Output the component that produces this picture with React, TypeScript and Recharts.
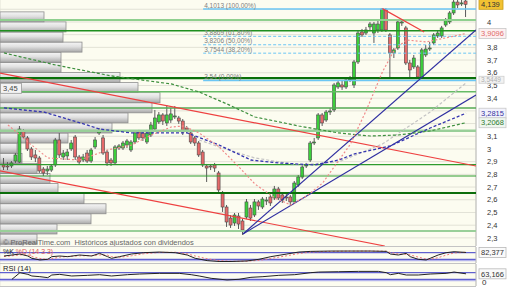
import React from "react";
import {
  ComposedChart,
  BarChart,
  LineChart,
  Bar,
  Line,
  XAxis,
  YAxis,
  CartesianGrid,
  ReferenceLine,
} from "recharts";

const FONT = "'Liberation Sans', Arial, sans-serif";

// daily candles
const opens = [
  2.874, 2.866, 2.866, 2.905, 2.897, 3.142, 3.087, 3.0, 2.953, 2.929,
  2.842, 2.827, 2.834, 2.874, 3.071, 2.937, 2.945, 3.0, 3.094, 2.937,
  2.913, 2.968, 2.905, 3.016, 3.126, 3.087, 2.976, 2.913, 2.89, 3.008,
  3.008, 3.031, 2.992, 3.055, 3.134, 3.126, 3.055, 3.11, 3.157, 3.213,
  3.268, 3.205, 3.228, 3.252, 3.244, 3.22, 3.165, 3.126, 3.087, 3.047,
  2.976, 2.866, 2.866, 2.874, 2.811, 2.653, 2.543, 2.456, 2.417, 2.472,
  2.433, 2.464, 2.535, 2.48, 2.583, 2.543, 2.59, 2.622, 2.614, 2.685,
  2.638, 2.622, 2.622, 2.583, 2.716, 2.779, 2.866, 2.913, 3.047, 3.087,
  3.268, 3.228, 3.291, 3.307, 3.488, 3.504, 3.488, 3.543, 3.504, 3.685,
  3.921, 3.913, 3.961, 3.913, 3.937, 3.937, 4.094, 3.898, 3.756, 3.795,
  3.992, 3.953, 3.677, 3.646, 3.646, 3.567, 3.74, 3.787, 3.835, 3.89,
  3.89, 3.976, 4.0, 4.071, 4.157, 4.142, 4.165,
];
const closes = [
  2.858, 2.862, 2.89, 2.953, 3.157, 3.094, 3.0, 2.937, 2.929, 2.827,
  2.811, 2.842, 2.866, 3.071, 2.953, 2.968, 2.976, 3.047, 2.937, 2.897,
  2.937, 2.905, 2.992, 3.071, 3.142, 2.968, 2.89, 2.89, 3.016, 3.024,
  3.047, 3.063, 3.055, 3.126, 3.087, 3.087, 3.126, 3.189, 3.244, 3.268,
  3.22, 3.268, 3.276, 3.26, 3.22, 3.134, 3.15, 3.055, 3.047, 2.953,
  2.874, 2.85, 2.858, 2.85, 2.677, 2.543, 2.425, 2.401, 2.48, 2.409,
  2.362, 2.583, 2.456, 2.583, 2.551, 2.606, 2.598, 2.575, 2.685, 2.614,
  2.598, 2.614, 2.583, 2.732, 2.779, 2.858, 2.874, 3.047, 3.055, 3.268,
  3.205, 3.291, 3.299, 3.504, 3.52, 3.488, 3.543, 3.551, 3.685, 3.913,
  3.898, 3.937, 3.984, 3.984, 3.984, 4.102, 3.937, 3.756, 3.78, 4.0,
  4.0, 3.677, 3.622, 3.716, 3.567, 3.78, 3.787, 3.795, 3.898, 3.913,
  3.953, 4.016, 4.071, 4.157, 4.134, 4.15, 4.139,
];
const highs = [
  2.929, 2.897, 2.905, 2.968, 3.181, 3.157, 3.102, 3.016, 2.992, 2.945,
  2.858, 2.866, 2.882, 3.087, 3.126, 2.992, 3.0, 3.071, 3.11, 2.953,
  2.961, 2.992, 3.008, 3.094, 3.165, 3.11, 2.992, 2.929, 3.031, 3.039,
  3.063, 3.079, 3.071, 3.142, 3.15, 3.142, 3.15, 3.213, 3.307, 3.291,
  3.283, 3.346, 3.323, 3.338, 3.26, 3.236, 3.181, 3.142, 3.102, 3.063,
  2.992, 2.882, 2.882, 2.89, 2.827, 2.669, 2.559, 2.48, 2.496, 2.496,
  2.449, 2.606, 2.559, 2.606, 2.598, 2.622, 2.622, 2.638, 2.709, 2.701,
  2.653, 2.646, 2.638, 2.748, 2.795, 2.874, 2.89, 3.063, 3.087, 3.283,
  3.283, 3.307, 3.323, 3.52, 3.535, 3.543, 3.559, 3.575, 3.701, 3.929,
  3.945, 3.961, 4.0, 4.0, 4.016, 4.11, 4.11, 3.913, 3.795, 4.016,
  4.016, 3.969, 3.701, 3.74, 3.661, 3.795, 3.819, 3.843, 3.913, 3.929,
  3.969, 4.031, 4.086, 4.173, 4.173, 4.173, 4.18,
];
const lows = [
  2.834, 2.834, 2.85, 2.89, 2.89, 3.079, 2.984, 2.913, 2.897, 2.811,
  2.787, 2.795, 2.819, 2.858, 2.929, 2.913, 2.913, 2.984, 2.913, 2.882,
  2.897, 2.89, 2.89, 3.0, 3.11, 2.953, 2.866, 2.866, 2.874, 2.992,
  2.992, 3.008, 2.976, 3.039, 3.071, 3.063, 3.039, 3.094, 3.142, 3.197,
  3.189, 3.181, 3.205, 3.236, 3.197, 3.11, 3.126, 3.039, 3.024, 2.937,
  2.858, 2.74, 2.834, 2.819, 2.661, 2.504, 2.386, 2.378, 2.394, 2.37,
  2.323, 2.449, 2.433, 2.464, 2.52, 2.527, 2.559, 2.551, 2.598, 2.598,
  2.575, 2.59, 2.559, 2.567, 2.701, 2.764, 2.85, 2.897, 3.031, 3.071,
  3.181, 3.213, 3.268, 3.291, 3.472, 3.465, 3.472, 3.527, 3.48, 3.669,
  3.882, 3.898, 3.937, 3.835, 3.913, 3.921, 3.921, 3.559, 3.716, 3.78,
  3.969, 3.661, 3.559, 3.63, 3.551, 3.559, 3.724, 3.772, 3.819, 3.874,
  3.874, 3.961, 3.984, 4.055, 4.11, 4.126, 4.039,
];

// moving averages, [candle index, value]
const maFast: [number, number][] = [
  [1, 3.189], [6, 3.055], [11, 2.929], [19, 2.913], [26, 2.992], [32, 3.031],
  [37, 3.11], [42, 3.173], [45, 3.181], [49, 3.126], [54, 3.016], [59, 2.858],
  [63, 2.724], [68, 2.614], [72, 2.559], [76, 2.63], [80, 2.732], [87, 3.039],
  [91, 3.307], [95, 3.606], [98, 3.78], [101, 3.858], [106, 3.843], [112, 3.882],
  [116, 3.9096],
];
const maMid: [number, number][] = [
  [0, 3.323], [10, 3.291], [20, 3.197], [24, 3.157], [32, 3.126], [46, 3.126],
  [54, 3.031], [62, 2.913], [69, 2.89], [78, 2.874], [84, 2.913], [88, 2.961],
  [97, 3.024], [107, 3.165], [116, 3.2815],
];
const maSlow: [number, number][] = [
  [0, 3.756], [13, 3.661], [27, 3.575], [42, 3.512], [49, 3.449], [56, 3.354],
  [63, 3.252], [74, 3.181], [84, 3.126], [92, 3.102], [99, 3.11], [107, 3.142],
  [116, 3.2068],
];
const maGray: [number, number][] = [
  [49, 3.071], [54, 3.016], [63, 2.929], [74, 2.874], [84, 2.898], [95, 3.039],
  [107, 3.291], [116, 3.52],
];

// stochastic and RSI, [candle index, value]
const stochK: [number, number][] = [
  [0, 50], [2, 59], [4, 68], [6, 50], [7, 29], [9, 14], [11, 20], [12, 44], [14, 50],
  [16, 44], [19, 59], [22, 50], [24, 74], [26, 44], [27, 29], [29, 44], [32, 68],
  [35, 80], [39, 86], [43, 80], [46, 59], [48, 29], [51, 8], [54, 0], [57, 0], [61, 5],
  [64, 20], [67, 44], [71, 68], [74, 86], [77, 92], [82, 95], [87, 95], [92, 95],
  [96, 92], [97, 68], [99, 59], [101, 74], [102, 44], [104, 20], [106, 14], [107, 29],
  [109, 59], [111, 80], [113, 89], [116, 82.377],
];
const stochD: [number, number][] = [
  [0, 45], [2, 52], [4, 60], [6, 60], [7, 45], [9, 28], [11, 18], [12, 25], [14, 40],
  [16, 46], [19, 52], [22, 54], [24, 60], [26, 58], [27, 45], [29, 38], [32, 52],
  [35, 70], [39, 82], [43, 84], [46, 70], [48, 50], [51, 25], [54, 8], [57, 2], [61, 3],
  [64, 10], [67, 28], [71, 52], [74, 72], [77, 86], [82, 92], [87, 95], [92, 95],
  [96, 94], [97, 82], [99, 68], [101, 66], [102, 60], [104, 40], [106, 22], [107, 20],
  [109, 35], [111, 58], [113, 78], [116, 84],
];
const rsi: [number, number][] = [
  [2, 30], [4, 70], [6, 60], [7, 50], [9, 46], [11, 40], [12, 56], [14, 60], [17, 50],
  [21, 54], [24, 58], [27, 50], [31, 58], [34, 62], [39, 66], [44, 66], [47, 58],
  [49, 50], [52, 36], [56, 26], [59, 30], [62, 42], [65, 46], [69, 54], [73, 58],
  [77, 70], [79, 74], [84, 76], [89, 78], [94, 78], [96, 70], [97, 58], [99, 66],
  [101, 56], [104, 56], [107, 62], [111, 66], [113, 74], [116, 63.166],
];

// volume by price
const vpPrice = [
  4.198, 4.118, 4.039, 3.959, 3.88, 3.8, 3.721, 3.641, 3.562, 3.483, 3.403, 3.323,
  3.244, 3.164, 3.085, 3.005, 2.926, 2.846, 2.767, 2.687, 2.607, 2.528, 2.448, 2.369,
];
const vpVol = [23, 37, 57, 91, 106, 84, 58, 50, 37, 22, 17, 68, 112, 128, 152, 160, 138, 120, 61, 61, 82, 63, 66, 44];

// horizontal support / resistance levels
const levels = [4.016, 3.931, 3.558, 3.45, 3.323, 3.144, 2.876, 2.787, 2.654, 2.354];
const levelStyle = [
  { c: "#8fd08f", w: 2 },
  { c: "#1f8f1f", w: 1.5 },
  { c: "#0a700a", w: 2.2 },
  { c: "#66bb66", w: 1.5 },
  { c: "#55aa55", w: 1.5 },
  { c: "#99cf99", w: 2.5 },
  { c: "#2e9b2e", w: 1.2 },
  { c: "#2e9b2e", w: 1.2 },
  { c: "#0c6e0c", w: 2 },
  { c: "#99cf99", w: 2.2 },
];

// fibonacci retracement
const fibValues = [4.1013, 3.8869, 3.8206, 3.7544, 3.54];
const fibPct = ["100,00%", "61,80%", "50,00%", "38,20%", "0,00%"];
const fibFrom = 50;

// trend lines [x1, y1, x2, y2]
const redLines = [
  [-1, 3.598, 118.5, 2.866],
  [-1, 2.827, 95.6, 2.236],
  [95, 4.105, 105.5, 3.921],
];
const blueLines = [
  [60, 2.331, 118.5, 3.937],
  [60, 2.331, 118.5, 3.425],
];

// 3,9 / 3,3 / 3,2 / 4,1 sit under the value tags
const priceTicks = [2.3, 2.4, 2.5, 2.6, 2.7, 2.8, 2.9, 3, 3.1, 3.4, 3.5, 3.6, 3.7, 3.8, 4];
const gridTicks = [2.3, 2.4, 2.5, 2.6, 2.7, 2.8, 2.9, 3, 3.1, 3.2, 3.3, 3.4, 3.5, 3.6, 3.7, 3.8, 3.9, 4, 4.1];
const gridIdx = [3, 8, 14, 19, 24, 29, 33, 38, 41, 47, 54, 58, 63, 67, 72, 77, 83, 87, 92, 97, 102, 105, 110, 114];

const candles = opens.map((o, i) => ({ i, o, c: closes[i], h: highs[i], l: lows[i] }));
const pts = (a: [number, number][]) => a.map(([i, v]) => ({ i, v }));
const profile = vpPrice.map((p, k) => ({ p, v: vpVol[k] }));

const X_DOMAIN: [number, number] = [-1, 118.5];
const Y_DOMAIN: [number, number] = [2.236, 4.173];
const W = 512;
const AXIS_W = 36;
const CREAM = "#fcfcf0";

const fmt = (v: number) => String(Number(v.toFixed(1))).replace(".", ",");

function Candle(props: any) {
  const { x, y, width, height, payload } = props;
  if (!payload || payload.h == null) return null;
  const top = Math.min(y, y + height);
  const h = Math.abs(height);
  const span = payload.h - payload.l || 1;
  const py = (p: number) => top + ((payload.h - p) / span) * h;
  const up = payload.c >= payload.o;
  const yo = py(payload.o);
  const yc = py(payload.c);
  const cx = x + width / 2;
  return (
    <g>
      <line x1={cx} x2={cx} y1={top} y2={top + h} stroke="#5a5a5a" strokeWidth={1} />
      <rect
        x={x}
        y={Math.min(yo, yc)}
        width={width}
        height={Math.max(1, Math.abs(yc - yo))}
        fill={up ? "#3ccf3c" : "#e66a6a"}
        stroke="#4a4a4a"
        strokeWidth={0.6}
      />
    </g>
  );
}

function ProfileBar(props: any) {
  const { x, y, width, height } = props;
  if (!width || width <= 0) return null;
  return <rect x={x} y={y} width={width} height={height} fill="url(#vpGrad)" stroke="#8e8e8e" strokeWidth={0.8} />;
}

function Tag(props: any) {
  const { viewBox, text, bg, fg, border, w = 27, h = 10, fs = 7.5 } = props;
  if (!viewBox) return null;
  const x = viewBox.x + viewBox.width + 3;
  const y = viewBox.y;
  return (
    <g>
      <rect x={x} y={y - h / 2} width={w} height={h} fill={bg} stroke={border} strokeWidth={0.8} />
      <text x={x + 2} y={y + fs * 0.36} fontSize={fs} fill={fg} fontFamily={FONT}>
        {text}
      </text>
    </g>
  );
}

function FibLabel(props: any) {
  const { viewBox, text } = props;
  if (!viewBox) return null;
  return (
    <text x={viewBox.x + 1} y={viewBox.y - 1.5} fontSize={6.5} fill="#808080" fontFamily={FONT}>
      {text}
    </text>
  );
}

function LeftBox(props: any) {
  const { viewBox, text } = props;
  if (!viewBox) return null;
  return (
    <g>
      <rect x={viewBox.x + 0.5} y={viewBox.y - 8.5} width={21} height={10} fill="#f3f3f3" stroke="#9a9a9a" strokeWidth={0.8} />
      <text x={viewBox.x + 3} y={viewBox.y - 0.5} fontSize={7.5} fill="#444" fontFamily={FONT}>
        {text}
      </text>
    </g>
  );
}

function BackLayer() {
  return (
    <ComposedChart width={W} height={246} data={candles} margin={{ top: 0, right: 0, bottom: 0, left: 0 }}>
      <CartesianGrid stroke="#e2e2d6" fill={CREAM} horizontalValues={gridTicks} />
      <XAxis dataKey="i" type="number" domain={X_DOMAIN} ticks={gridIdx} tick={false} axisLine={false} tickLine={false} height={0} allowDataOverflow />
      <YAxis
        orientation="right"
        width={AXIS_W}
        domain={Y_DOMAIN}
        ticks={priceTicks}
        interval={0}
        allowDataOverflow
        tickFormatter={fmt}
        tick={{ fontSize: 7.5, fill: "#333", fontFamily: FONT }}
        tickLine={false}
        tickMargin={5}
        axisLine={{ stroke: "#bdbdbd" }}
      />
      <Line dataKey="c" stroke="none" dot={false} isAnimationActive={false} />
    </ComposedChart>
  );
}

function ProfileLayer() {
  return (
    <BarChart width={W} height={246} data={profile} layout="vertical" margin={{ top: 0, right: AXIS_W, bottom: 0, left: 0 }}>
      <defs>
        <linearGradient id="vpGrad" x1="0" y1="0" x2="0" y2="1">
          <stop offset="0%" stopColor="#f6f6f6" />
          <stop offset="45%" stopColor="#e0e0e0" />
          <stop offset="100%" stopColor="#a8a8a8" />
        </linearGradient>
      </defs>
      <XAxis type="number" domain={[0, 476]} hide />
      <YAxis type="number" dataKey="p" domain={Y_DOMAIN} allowDataOverflow hide />
      <Bar dataKey="v" barSize={10} shape={<ProfileBar />} isAnimationActive={false} />
    </BarChart>
  );
}

function PriceLayer() {
  return (
    <ComposedChart width={W} height={246} data={candles} margin={{ top: 0, right: 0, bottom: 0, left: 0 }}>
      <XAxis dataKey="i" type="number" domain={X_DOMAIN} hide allowDataOverflow />
      <YAxis orientation="right" width={AXIS_W} domain={Y_DOMAIN} allowDataOverflow tick={false} axisLine={false} tickLine={false} />
      {levels.map((v, k) => (
        <ReferenceLine key={"lv" + k} y={v} stroke={levelStyle[k].c} strokeWidth={levelStyle[k].w} />
      ))}
      <ReferenceLine y={3.45} stroke="none" label={<LeftBox text="3,45" />} />
      {fibValues.map((v, k) => (
        <ReferenceLine
          key={"fib" + k}
          segment={[
            { x: fibFrom, y: v },
            { x: X_DOMAIN[1], y: v },
          ]}
          ifOverflow="hidden"
          stroke="#6cc6f4"
          strokeWidth={k === 0 || k === 4 ? 1.5 : 1}
          strokeDasharray={k === 0 || k === 4 ? undefined : "3 2"}
          label={<FibLabel text={`${String(v).replace(".", ",")} (${fibPct[k]})`} />}
        />
      ))}
      {redLines.map(([x1, y1, x2, y2], k) => (
        <ReferenceLine
          key={"rl" + k}
          segment={[
            { x: x1, y: y1 },
            { x: x2, y: y2 },
          ]}
          ifOverflow="hidden"
          stroke="#ee4040"
          strokeWidth={1.2}
        />
      ))}
      {blueLines.map(([x1, y1, x2, y2], k) => (
        <ReferenceLine
          key={"bl" + k}
          segment={[
            { x: x1, y: y1 },
            { x: x2, y: y2 },
          ]}
          ifOverflow="hidden"
          stroke="#2e2ea0"
          strokeWidth={1.2}
        />
      ))}
      <Line data={pts(maGray)} dataKey="v" stroke="#c4c4c4" strokeWidth={1.2} strokeDasharray="3 2" dot={false} activeDot={false} isAnimationActive={false} />
      <Line data={pts(maSlow)} dataKey="v" stroke="#3d8f3d" strokeWidth={1.2} strokeDasharray="3 2" dot={false} activeDot={false} isAnimationActive={false} />
      <Line data={pts(maMid)} dataKey="v" stroke="#3535b0" strokeWidth={1.3} strokeDasharray="3 2" dot={false} activeDot={false} isAnimationActive={false} />
      <Line data={pts(maFast)} dataKey="v" stroke="#f08a8a" strokeWidth={1.2} strokeDasharray="2 2" dot={false} activeDot={false} isAnimationActive={false} />
      <Bar dataKey={(d: any) => [d.l, d.h]} barSize={3} shape={<Candle />} isAnimationActive={false} />
      <ReferenceLine y={closes[closes.length - 1]} stroke="none" label={<Tag text="4,139" bg="#f2c232" fg="#333" border="#c89c18" w={24} />} />
      <ReferenceLine y={3.9096} stroke="none" label={<Tag text="3,9096" bg="#fdf0f0" fg="#e06a6a" border="#c8c8c8" />} />
      <ReferenceLine y={3.5449} stroke="none" label={<Tag text="3,5449" bg="#f2f2f2" fg="#b0b0b0" border="#cfcfcf" h={7} fs={6.5} w={25} />} />
      <ReferenceLine y={3.2815} stroke="none" label={<Tag text="3,2815" bg="#f2f2fc" fg="#3535a0" border="#c8c8c8" />} />
      <ReferenceLine y={3.2068} stroke="none" label={<Tag text="3,2068" bg="#eef6ee" fg="#2f7a2f" border="#c8c8c8" />} />
    </ComposedChart>
  );
}

function StochPanel() {
  return (
    <LineChart width={W} height={16} margin={{ top: 0, right: 0, bottom: 0, left: 0 }}>
      <CartesianGrid stroke="#e6e6da" fill={CREAM} horizontal={false} />
      <XAxis dataKey="i" type="number" domain={X_DOMAIN} ticks={gridIdx} tick={false} axisLine={false} tickLine={false} height={0} allowDataOverflow />
      <YAxis orientation="right" width={AXIS_W} domain={[-13.6, 131.8]} allowDataOverflow tick={false} tickLine={false} axisLine={{ stroke: "#bdbdbd" }} />
      <ReferenceLine y={8} stroke="#b4b4ec" strokeWidth={1.5} />
      <ReferenceLine y={80} stroke="#3c3cc8" strokeWidth={1} />
      <ReferenceLine y={20} stroke="#3c3cc8" strokeWidth={1} />
      <Line data={pts(stochD)} dataKey="v" stroke="#f07878" strokeWidth={1} strokeDasharray="2 2" dot={false} activeDot={false} isAnimationActive={false} />
      <Line data={pts(stochK)} dataKey="v" stroke="#222" strokeWidth={1} dot={false} activeDot={false} isAnimationActive={false} />
      <ReferenceLine y={82.377} stroke="none" label={<Tag text="82,377" bg="#fafafa" fg="#333" border="#b8b8b8" />} />
    </LineChart>
  );
}

function RsiPanel() {
  return (
    <LineChart width={W} height={22} margin={{ top: 0, right: 0, bottom: 0, left: 0 }}>
      <CartesianGrid stroke="#e6e6da" fill={CREAM} horizontal={false} />
      <XAxis dataKey="i" type="number" domain={X_DOMAIN} ticks={gridIdx} tick={false} axisLine={false} tickLine={false} height={0} allowDataOverflow />
      <YAxis orientation="right" width={AXIS_W} domain={[-10.6, 122.7]} allowDataOverflow tick={false} tickLine={false} axisLine={{ stroke: "#bdbdbd" }} />
      <ReferenceLine y={22} stroke="#b4b4ec" strokeWidth={1.5} />
      <ReferenceLine y={70} stroke="#3c3cc8" strokeWidth={1} />
      <ReferenceLine y={30} stroke="#3c3cc8" strokeWidth={1} />
      <Line data={pts(rsi)} dataKey="v" stroke="#222" strokeWidth={1} dot={false} activeDot={false} isAnimationActive={false} />
      <ReferenceLine y={63.166} stroke="none" label={<Tag text="63,166" bg="#fafafa" fg="#333" border="#b8b8b8" />} />
      <ReferenceLine
        y={0}
        stroke="none"
        label={(p: any) => (
          <text x={p.viewBox.x + p.viewBox.width + 6} y={p.viewBox.y + 1} fontSize={8} fill="#333" fontFamily={FONT}>
            0
          </text>
        )}
      />
    </LineChart>
  );
}

export default function App() {
  const abs = (top: number): React.CSSProperties => ({ position: "absolute", left: 0, top });
  return (
    <div
      style={{
        position: "fixed",
        left: 0,
        top: 0,
        width: W,
        height: 288,
        background: "#ffffff",
        overflow: "hidden",
        fontFamily: FONT,
      }}
    >
      <div style={abs(0)}>
        <BackLayer />
      </div>
      <div style={abs(0)}>
        <ProfileLayer />
      </div>
      <div style={abs(0)}>
        <PriceLayer />
      </div>
      <div style={{ position: "absolute", left: 3, top: 239, fontSize: 7.5, lineHeight: "8px", color: "#666", whiteSpace: "nowrap" }}>
        © ProRealTime.com&nbsp; Históricos ajustados con dividendos
      </div>
      <div style={{ position: "absolute", left: 0, top: 246, width: 476, height: 1, background: "#c4c4c4" }} />
      <div style={abs(247)}>
        <StochPanel />
      </div>
      <div style={{ position: "absolute", left: 0, top: 263, width: 476, height: 1, background: "#c4c4c4" }} />
      <div style={abs(264)}>
        <RsiPanel />
      </div>
      <div style={{ position: "absolute", left: 0, top: 286, width: 476, height: 1, background: "#c4c4c4" }} />
      <div style={{ position: "absolute", left: 3, top: 248, fontSize: 7, lineHeight: "8px", whiteSpace: "nowrap" }}>
        <span style={{ color: "#222" }}>%K </span>
        <span style={{ color: "#e05a5a" }}>%D (14 3 3)</span>
      </div>
      <div style={{ position: "absolute", left: 3, top: 265, fontSize: 7.5, lineHeight: "8px", color: "#222", whiteSpace: "nowrap" }}>
        RSI (14)
      </div>
    </div>
  );
}
